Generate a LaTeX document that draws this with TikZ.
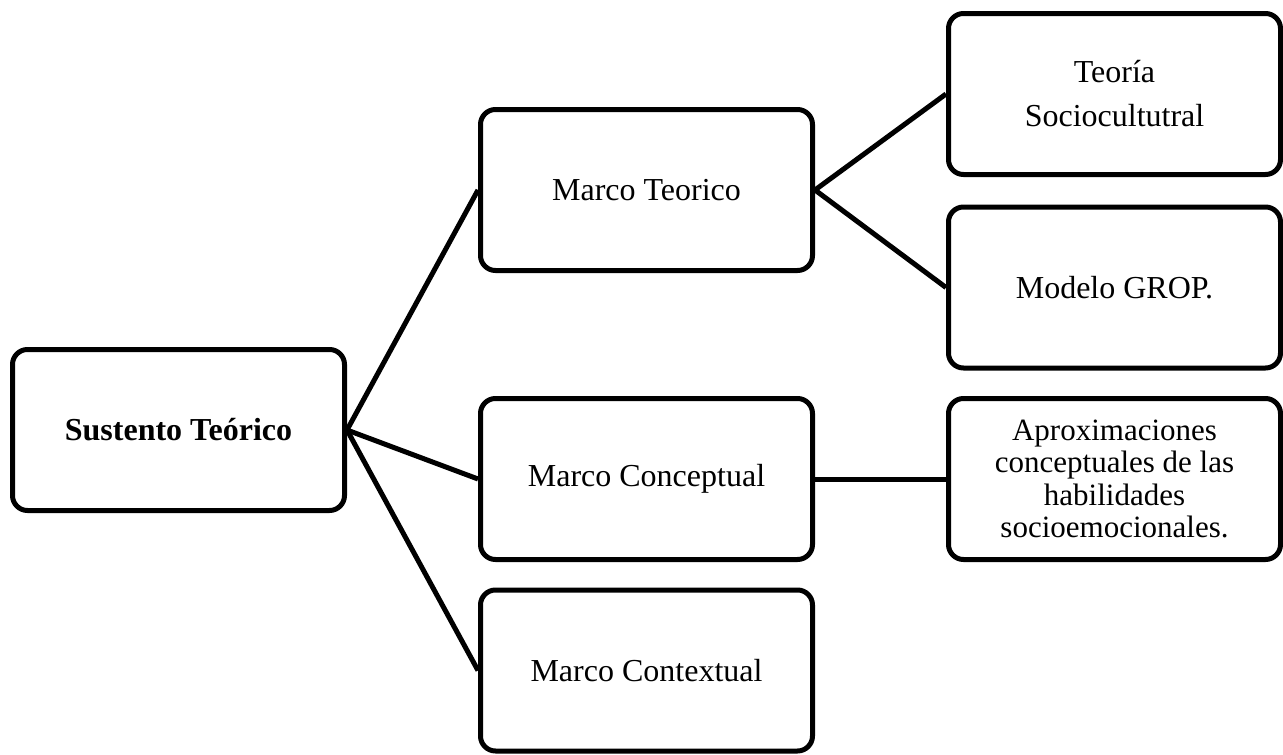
\documentclass[tikz,border=0pt]{standalone}
\usepackage{fontspec}
\setmainfont{Liberation Serif}
\begin{document}
\begin{tikzpicture}[
  x=1pt, y=-1pt,
  box/.style={draw=black, line width=5pt, rounded corners=15pt, fill=white,
    minimum width=332pt, minimum height=161pt, inner sep=4pt, align=center,
    font=\fontsize{32}{38}\selectfont},
  link/.style={draw=black, line width=5pt}
]
\useasboundingbox (0,0) rectangle (1283,755);

% root
\node[box, font=\bfseries\fontsize{32}{38}\selectfont] (root) at (178.5,430) {Sustento Teórico};

% second level
\node[box] (teo) at (646.5,190) {Marco Teorico};
\node[box] (con) at (646.5,479) {Marco Conceptual};
\node[box] (ctx) at (646.5,670.5) {Marco Contextual};

% third level
\node[box, font=\fontsize{32}{44}\selectfont] (soc) at (1114.5,94) {Teoría\\Sociocultutral};
\node[box] (grop) at (1114.5,287.5) {Modelo GROP.};
\node[box, font=\fontsize{31}{32.5}\selectfont] (apr) at (1114.5,479)
  {Aproximaciones\\conceptuales de las\\habilidades\\socioemocionales.};

% connectors
\draw[link] (root.east) -- (teo.west);
\draw[link] (root.east) -- (con.west);
\draw[link] (root.east) -- (ctx.west);
\draw[link] (teo.east) -- (soc.west);
\draw[link] (teo.east) -- (grop.west);
\draw[link] (con.east) -- (apr.west);
\end{tikzpicture}
\end{document}
